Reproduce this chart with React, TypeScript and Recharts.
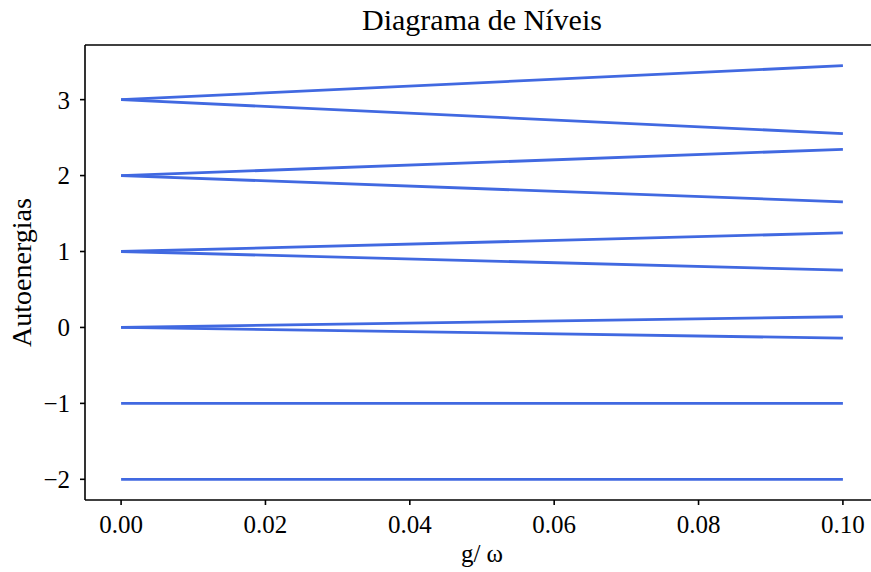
import { Line, LineChart, ReferenceLine, XAxis, YAxis } from "recharts";

// coupling values (x) and eigen-energies at each end of the sweep
const G = [0, 0.1];
const E3_UP = [3, 3.447];
const E3_DOWN = [3, 2.553];
const E2_UP = [2, 2.346];
const E2_DOWN = [2, 1.654];
const E1_UP = [1, 1.245];
const E1_DOWN = [1, 0.755];
const E0_UP = [0, 0.141];
const E0_DOWN = [0, -0.141];
const EM1 = [-1, -1];
const EM2 = [-2, -2];

const X_TICKS = [0, 0.02, 0.04, 0.06, 0.08, 0.1];
const Y_TICKS = [-2, -1, 0, 1, 2, 3];

const SERIES = [E3_UP, E3_DOWN, E2_UP, E2_DOWN, E1_UP, E1_DOWN, E0_UP, E0_DOWN, EM1, EM2];
const data = G.map((g, i) => {
  const row: Record<string, number> = { g };
  SERIES.forEach((s, k) => (row[`s${k}`] = s[i]));
  return row;
});

const BLUE = "#4169E1";
const FONT = "'Liberation Serif', 'Times New Roman', serif";
const Y_MAX = 3.7195;
const Y_MIN = -2.2724;

const fmtY = (v: number) => (v < 0 ? `\u2212${Math.abs(v)}` : `${v}`);

export default function App() {
  return (
    <div style={{ position: "absolute", left: 0, top: 0, width: 871, height: 572, overflow: "hidden", background: "#fff" }}>
      <LineChart
        width={890}
        height={572}
        data={data}
        margin={{ top: 45, right: 11, left: 0, bottom: 0 }}
        style={{ fontFamily: FONT }}
      >
        <XAxis
          dataKey="g"
          type="number"
          domain={[-0.005, 0.105]}
          ticks={X_TICKS}
          tickFormatter={(v: number) => v.toFixed(2)}
          allowDataOverflow
          height={72}
          stroke="#000"
          strokeWidth={1.6}
          tickSize={5}
          tickMargin={10}
          tick={{ fill: "#000", fontSize: 25 }}
          label={{ value: "g/ \u03c9", position: "insideBottom", offset: 10, fill: "#000", fontSize: 25 }}
        />
        <YAxis
          type="number"
          domain={[Y_MIN, Y_MAX]}
          ticks={Y_TICKS}
          tickFormatter={fmtY}
          allowDataOverflow
          width={85}
          stroke="#000"
          strokeWidth={1.6}
          tickSize={5}
          tickMargin={10}
          tick={{ fill: "#000", fontSize: 25 }}
          label={{
            value: "Autoenergias",
            angle: -90,
            position: "insideLeft",
            offset: 21,
            fill: "#000",
            fontSize: 28,
            style: { textAnchor: "middle" },
          }}
        />
        <ReferenceLine
          y={Y_MAX}
          stroke="#000"
          strokeWidth={1.6}
          label={{ value: "Diagrama de N\u00edveis", position: "top", offset: 15, fill: "#000", fontSize: 30 }}
        />
        {SERIES.map((_, k) => (
          <Line
            key={k}
            dataKey={`s${k}`}
            type="linear"
            stroke={BLUE}
            strokeWidth={2.8}
            dot={false}
            activeDot={false}
            isAnimationActive={false}
          />
        ))}
      </LineChart>
    </div>
  );
}
